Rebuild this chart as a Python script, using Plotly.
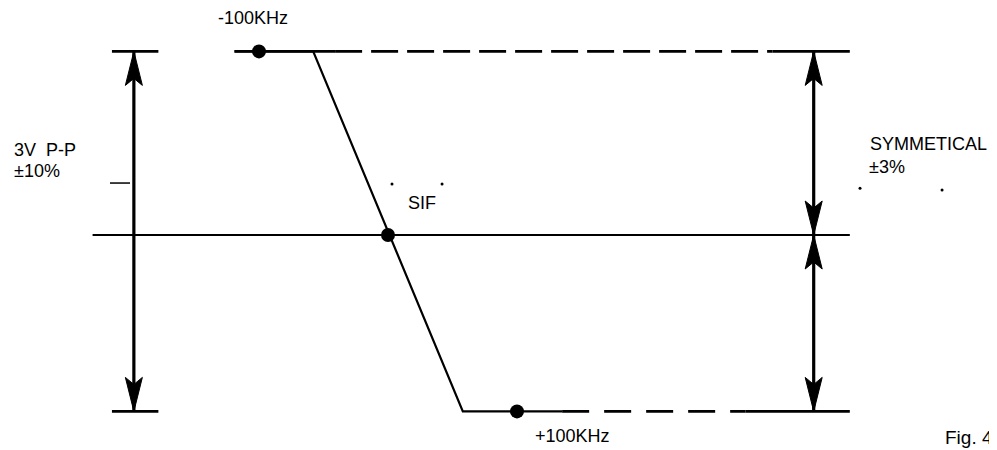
import plotly.graph_objects as go

# ---------------- data (frequency offset in kHz, output level in V) ----------------
V_TOP, V_MID, V_BOT = 1.53, 0.0, -1.47

marker_freq = [-100, 0, 100]
marker_volt = [V_TOP, V_MID, V_BOT]

curve_freq = [-119, -58, 58, 135]          # solid S-curve (discriminator response)
curve_volt = [V_TOP, V_TOP, V_BOT, V_BOT]

top_solid_freq = [-119, -41]
top_dash_freq = [-41, 298]
top_end_freq = [298, 358]
bot_dash_freq = [135, 277]
bot_end_freq = [277, 358]
center_freq = [-229, 358]

left_arrow_freq = -197
right_arrow_freq = 330
tick_freq = [-214, -178]
mid_tick_freq = [-215.5, -200]
mid_tick_volt = 0.433

speck_freq = [3.1, 41.9, 365.9, 429.5]
speck_volt = [0.425, 0.425, 0.39, 0.375]

# ---------------- geometry of the drawing ----------------
REF_W, REF_H = 997, 450
PAGE_OFFSET = 8                      # default body margin of the page
W, H = REF_W - PAGE_OFFSET, REF_H - PAGE_OFFSET
PX_PER_KHZ = 1.29
PX_PER_V = 120.0
X0_PX, Y0_PX = 388, 235              # reference pixel of (0 kHz, 0 V)
x_range = [(PAGE_OFFSET - X0_PX) / PX_PER_KHZ, (REF_W - X0_PX) / PX_PER_KHZ]
y_range = [(Y0_PX - REF_H) / PX_PER_V, (Y0_PX - PAGE_OFFSET) / PX_PER_V]

INK = "#000000"
FONT = "Liberation Sans, Arial, Helvetica, sans-serif"

fig = go.Figure()


def line(xs, ys, width=2.2, dash="solid"):
    fig.add_trace(go.Scatter(x=xs, y=ys, mode="lines",
                             line=dict(color=INK, width=width, dash=dash),
                             hoverinfo="skip", showlegend=False))


# horizontal levels
line(top_solid_freq, [V_TOP, V_TOP], 2.6)
line(top_dash_freq, [V_TOP, V_TOP], 2.6, "27px,9px")
line(top_end_freq, [V_TOP, V_TOP], 2.6)
line(curve_freq, curve_volt, 2.2)
line(bot_dash_freq, [V_BOT, V_BOT], 2.6, "27px,15px")
line(bot_end_freq, [V_BOT, V_BOT], 2.6)
line(center_freq, [V_MID, V_MID], 2.2)

# left dimension ticks
line(tick_freq, [V_TOP, V_TOP], 2.6)
line(tick_freq, [V_BOT, V_BOT], 2.6)
line(mid_tick_freq, [mid_tick_volt, mid_tick_volt], 1.5)

# arrow shafts
line([left_arrow_freq, left_arrow_freq], [V_TOP, V_BOT], 3.2)
line([right_arrow_freq, right_arrow_freq], [V_TOP, V_BOT], 3.2)

# arrowheads (filled, notched)
AH_LEN, AH_HALF, AH_NOTCH = 34, 8.5, 27


def head(f, v, direction):
    # direction +1 points up, -1 points down
    s = -direction
    dv = lambda px: px / PX_PER_V
    df = lambda px: px / PX_PER_KHZ
    return ([f, f - df(AH_HALF), f, f + df(AH_HALF), f, None],
            [v, v + s * dv(AH_LEN), v + s * dv(AH_NOTCH), v + s * dv(AH_LEN), v, None])


hx, hy = [], []
for f, v, d in [(left_arrow_freq, V_TOP, 1), (left_arrow_freq, V_BOT, -1),
                (right_arrow_freq, V_TOP, 1), (right_arrow_freq, V_MID, -1),
                (right_arrow_freq, V_MID, 1), (right_arrow_freq, V_BOT, -1)]:
    a, b = head(f, v, d)
    hx += a
    hy += b
fig.add_trace(go.Scatter(x=hx, y=hy, mode="lines", fill="toself", fillcolor=INK,
                         line=dict(color=INK, width=1), hoverinfo="skip", showlegend=False))

# dots
fig.add_trace(go.Scatter(x=marker_freq, y=marker_volt, mode="markers",
                         marker=dict(color=INK, size=14), hoverinfo="skip", showlegend=False))
# scan specks
fig.add_trace(go.Scatter(x=speck_freq, y=speck_volt, mode="markers",
                         marker=dict(color=INK, size=3), hoverinfo="skip", showlegend=False))


def label(text, px, py, size=18):
    # px, py: reference pixel position of the text's left / vertical middle
    fig.add_annotation(text=text, x=(px - PAGE_OFFSET) / W, y=1 - (py - PAGE_OFFSET) / H,
                       xref="paper", yref="paper",
                       xanchor="left", yanchor="middle", showarrow=False,
                       font=dict(family=FONT, size=size, color=INK))


label("-100KHz", 216, 18)
label("3V\u00a0 P-P", 12, 150)
label("±10%", 12, 171)
label("SIF", 406, 203)
label("SYMMETICAL", 868, 144)
label("±3%", 867, 167)
label("+100KHz", 533, 436)
label("Fig. 4", 943, 437, 19)

fig.update_layout(
    width=W, height=H, autosize=False,
    margin=dict(l=0, r=0, t=0, b=0),
    paper_bgcolor="white", plot_bgcolor="white",
    xaxis=dict(range=x_range, visible=False, fixedrange=True),
    yaxis=dict(range=y_range, visible=False, fixedrange=True),
    showlegend=False,
)

fig.write_html("out.html")
